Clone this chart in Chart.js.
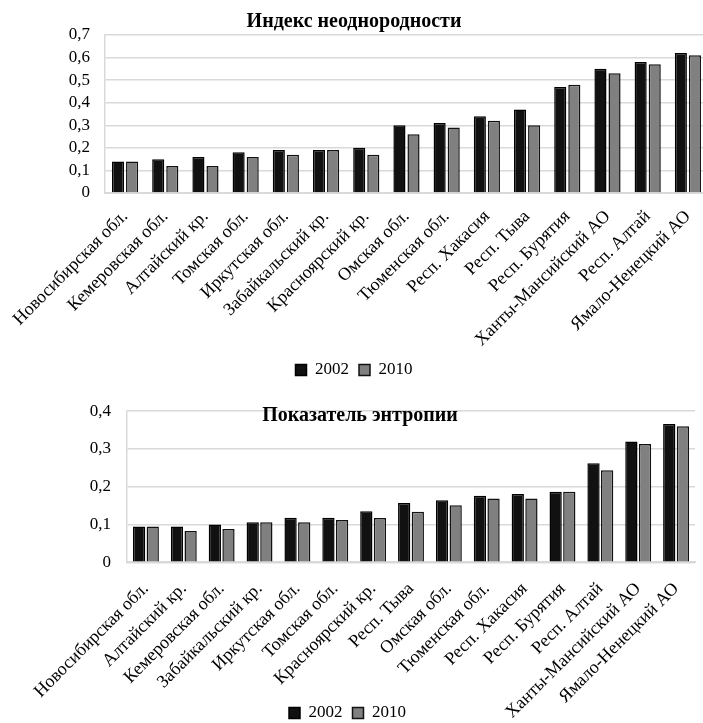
<!DOCTYPE html>
<html lang="ru">
<head>
<meta charset="utf-8">
<title>Индекс неоднородности и показатель энтропии</title>
<script src="https://cdn.jsdelivr.net/npm/chart.js@4/dist/chart.umd.min.js"></script>
<style>
    html, body { margin: 0; padding: 0; background: #fff; overflow: hidden; }
    .bloco { position: relative; width: 720px; }
    #b1 { height: 385px; }
    #b2 { height: 338px; }
</style>
</head>
<body>
<div class="bloco" id="b1"><canvas id="graficoIndice"></canvas></div>
<div class="bloco" id="b2"><canvas id="graficoEntropia"></canvas></div>
<script>
const anos = ['2002', '2010'];

const regioesIndice = ['Новосибирская обл.', 'Кемеровская обл.', 'Алтайский кр.', 'Томская обл.', 'Иркутская обл.',
    'Забайкальский кр.', 'Красноярский кр.', 'Омская обл.', 'Тюменская обл.', 'Респ. Хакасия', 'Респ. Тыва',
    'Респ. Бурятия', 'Ханты-Мансийский АО', 'Респ. Алтай', 'Ямало-Ненецкий АО'];
const indice2002 = [0.14, 0.15, 0.16, 0.18, 0.19, 0.19, 0.20, 0.30, 0.31, 0.34, 0.37, 0.47, 0.55, 0.58, 0.62];
const indice2010 = [0.14, 0.12, 0.12, 0.16, 0.17, 0.19, 0.17, 0.26, 0.29, 0.32, 0.30, 0.48, 0.53, 0.57, 0.61];
const ticksIndice = ['0', '0,1', '0,2', '0,3', '0,4', '0,5', '0,6', '0,7'];

const regioesEntropia = ['Новосибирская обл.', 'Алтайский кр.', 'Кемеровская обл.', 'Забайкальский кр.', 'Иркутская обл.',
    'Томская обл.', 'Красноярский кр.', 'Респ. Тыва', 'Омская обл.', 'Тюменская обл.', 'Респ. Хакасия',
    'Респ. Бурятия', 'Респ. Алтай', 'Ханты-Мансийский АО', 'Ямало-Ненецкий АО'];
const entropia2002 = [0.095, 0.095, 0.100, 0.106, 0.118, 0.118, 0.135, 0.157, 0.164, 0.176, 0.181, 0.187, 0.262, 0.320, 0.366];
const entropia2010 = [0.095, 0.083, 0.088, 0.106, 0.106, 0.112, 0.117, 0.134, 0.151, 0.169, 0.169, 0.187, 0.244, 0.313, 0.360];
const ticksEntropia = ['0', '0,1', '0,2', '0,3', '0,4'];

const fonte = 'Liberation Serif, Times New Roman, serif';
const corGrade = '#d9d9d9';

Chart.defaults.font.family = fonte;
Chart.defaults.color = '#000';

function conjuntos(v2002, v2010, catPct, barPct) {
    return [
        { label: anos[0], data: v2002, backgroundColor: '#111111', borderColor: '#000', borderWidth: 1.5,
          categoryPercentage: catPct, barPercentage: barPct },
        { label: anos[1], data: v2010, backgroundColor: '#808080', borderColor: '#111', borderWidth: 1.5,
          categoryPercentage: catPct, barPercentage: barPct }
    ];
}

function eixoX(altura, pad) {
    return {
        grid: { display: false, drawTicks: false },
        border: { display: true, color: corGrade, width: 2 },
        ticks: { autoSkip: false, minRotation: 45, maxRotation: 45, padding: pad, font: { size: 18 } },
        afterFit: (s) => { s.height = altura; }
    };
}

function eixoY(max, rotulos, largura, pad) {
    return {
        min: 0, max: max,
        grid: { color: corGrade, lineWidth: 1.5, drawTicks: false },
        border: { display: true, color: corGrade, width: 1.5 },
        ticks: {
            stepSize: 0.1, autoSkip: false, padding: pad, font: { size: 17 },
            callback: (v) => rotulos[Math.round(v * 10)]
        },
        afterFit: (s) => { s.width = largura; }
    };
}

// legenda com altura fixa e posta por cima da faixa dos rótulos, como no original
const legendaFixa = {
    id: 'legendaFixa',
    beforeInit(chart, args, opts) {
        if (!chart.legend) return;
        const fitOriginal = chart.legend.fit;
        chart.legend.fit = function () {
            fitOriginal.call(this);
            this.height = opts.altura;
        };
    },
    afterLayout(chart, args, opts) {
        const leg = chart.legend;
        if (!leg) return;
        leg.top = opts.topo;
        leg.height = 40;
        leg.bottom = opts.topo + 40;
    }
};

// Título do segundo gráfico fica dentro da área de plotagem
const tituloInterno = {
    id: 'tituloInterno',
    afterDraw(chart, args, opts) {
        if (!opts.texto) return;
        const ctx = chart.ctx;
        ctx.save();
        ctx.font = 'bold 20px ' + fonte;
        ctx.fillStyle = '#000';
        ctx.textAlign = 'center';
        ctx.textBaseline = 'middle';
        ctx.fillText(opts.texto, chart.width / 2, opts.y);
        ctx.restore();
    }
};

const ctxIndice = document.getElementById('graficoIndice').getContext('2d');
const graficoIndice = new Chart(ctxIndice, {
    type: 'bar',
    data: { labels: regioesIndice, datasets: conjuntos(indice2002, indice2010, 0.7, 0.86) },
    options: {
        responsive: true,
        maintainAspectRatio: false,
        animation: false,
        layout: { padding: { left: 0, right: 12, top: 0, bottom: 0 } },
        plugins: {
            title: {
                display: true,
                text: 'Индекс неоднородности',
                font: { size: 20, weight: 'bold' },
                color: '#000',
                padding: { top: 10, bottom: 1 }
            },
            legend: {
                position: 'bottom',
                labels: { boxWidth: 11, boxHeight: 11, padding: 10, font: { size: 17 } }
            },
            legendaFixa: { altura: 10, topo: 351.5 },
            tooltip: { enabled: false }
        },
        scales: {
            x: eixoX(182, 13),
            y: eixoY(0.7, ticksIndice, 102, 15)
        }
    },
    plugins: [legendaFixa]
});

const ctxEntropia = document.getElementById('graficoEntropia').getContext('2d');
const graficoEntropia = new Chart(ctxEntropia, {
    type: 'bar',
    data: { labels: regioesEntropia, datasets: conjuntos(entropia2002, entropia2010, 0.72, 0.9) },
    options: {
        responsive: true,
        maintainAspectRatio: false,
        animation: false,
        layout: { padding: { left: 0, right: 25, top: 23, bottom: 0 } },
        plugins: {
            legend: {
                position: 'bottom',
                labels: { boxWidth: 11, boxHeight: 11, padding: 10, font: { size: 17 } }
            },
            legendaFixa: { altura: 5, topo: 309.5 },
            tituloInterno: { texto: 'Показатель энтропии', y: 31 },
            tooltip: { enabled: false }
        },
        scales: {
            x: eixoX(155.7, 16),
            y: eixoY(0.4, ticksEntropia, 127, 16)
        }
    },
    plugins: [legendaFixa, tituloInterno]
});
</script>
</body>
</html>
